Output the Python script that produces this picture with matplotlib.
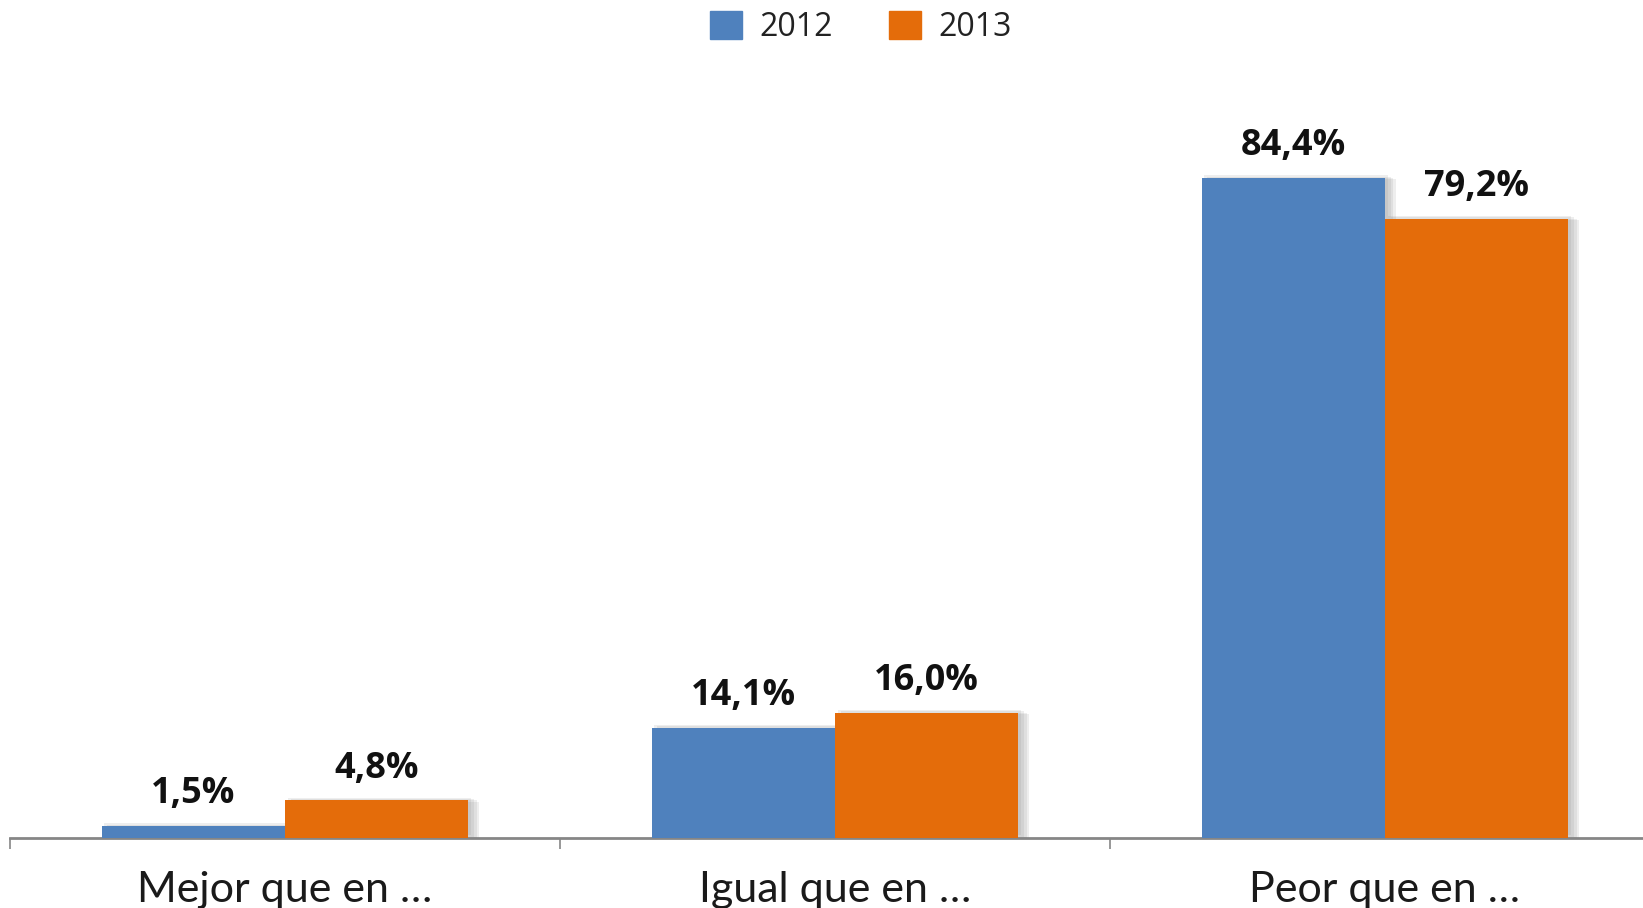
import numpy as np
import matplotlib
matplotlib.use("Agg")
import matplotlib.pyplot as plt
import matplotlib.patheffects as pe
from matplotlib.patches import Patch

categories = ["Mejor que en …", "Igual que en …", "Peor que en …"]
years = ["2012", "2013"]
v2012 = [1.5, 14.1, 84.4]
v2013 = [4.8, 16.0, 79.2]

C_BLUE, C_ORANGE = "#4F81BD", "#E46C0A"
W, H = 1643, 908

fig = plt.figure(figsize=(W / 100, H / 100), dpi=100)
base = 838
top = base - 90 * 7.82
ax = fig.add_axes([10 / W, (H - base) / H, 1650 / W, (base - top) / H])

x = np.arange(len(categories))
w = 1 / 3
# soft drop shadow: a few faint offset copies
shadow = [pe.SimplePatchShadow(offset=(dx, dy), shadow_rgbFace="#808080", alpha=0.13)
          for dx, dy in ((2, 2), (4, 1), (6, 0), (8, -1))] + [pe.Normal()]
b1 = ax.bar(x - w / 2, v2012, w, color=C_BLUE, zorder=3, path_effects=shadow)
b2 = ax.bar(x + w / 2, v2013, w, color=C_ORANGE, zorder=3, path_effects=shadow)

fmt = lambda v: f"{v:.1f}%".replace(".", ",")
for bars, vals in ((b1, v2012), (b2, v2013)):
    for b, v in zip(bars, vals):
        ax.annotate(fmt(v), (b.get_x() + b.get_width() / 2, v),
                    textcoords="offset points", xytext=(0, 10),
                    ha="center", va="bottom", fontsize=26, fontweight="bold",
                    family="Open Sans", color="#111111")

ax.set_xlim(-0.5, 2.5)
ax.set_ylim(0, 90)
for s in ("left", "right", "top"):
    ax.spines[s].set_visible(False)
ax.spines["bottom"].set_color("#868686")
ax.spines["bottom"].set_linewidth(2)
ax.set_yticks([])
ax.set_xticks(x)
ax.set_xticklabels(categories, fontsize=31, family="Lato", fontweight="normal",
                   color="#1a1a1a")
ax.tick_params(axis="x", which="major", length=0, pad=24)
ax.set_xticks([-0.5, 0.5, 1.5, 2.5], minor=True)
ax.tick_params(axis="x", which="minor", length=8, width=1.2, color="#868686")

handles = [Patch(color=C_BLUE), Patch(color=C_ORANGE)]
fig.legend(handles=handles, labels=years, loc="upper center",
           bbox_to_anchor=(0.524, 1.02), ncol=2, frameon=False,
           prop={"family": "Open Sans", "size": 23}, handlelength=1.0,
           handleheight=1.0, columnspacing=1.75, handletextpad=0.55,
           labelcolor="#222222")

fig.savefig("out.png", dpi=100)
